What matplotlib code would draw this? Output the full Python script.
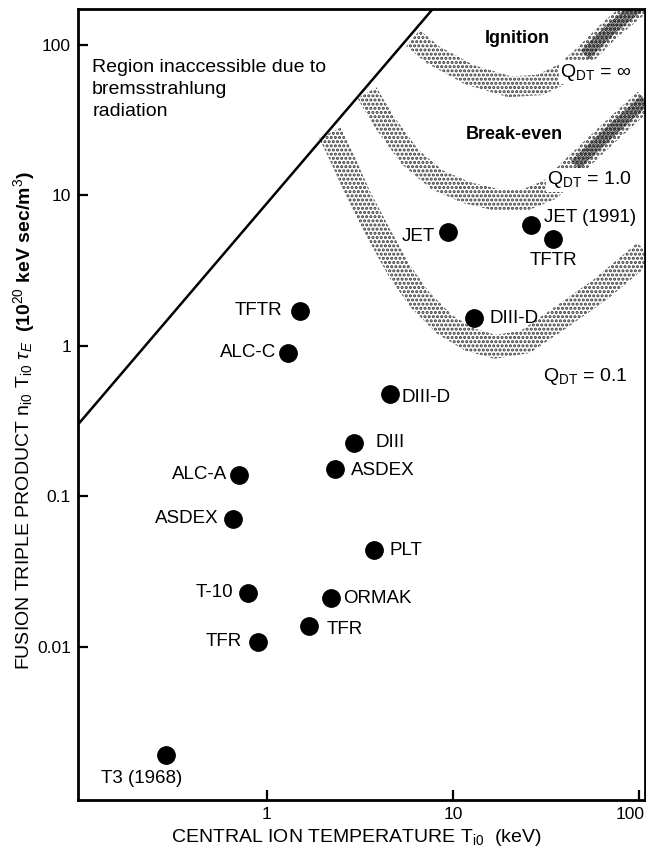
"""Lawson-type progress chart: fusion triple product vs central ion temperature."""
import matplotlib
matplotlib.use("Agg")
import matplotlib.pyplot as plt
import matplotlib.transforms as mtransforms
import numpy as np
from matplotlib.patches import Polygon

# tokamak results (keV, 1e20 keV s / m^3)
MACHINES = ["T3 (1968)", "TFR", "T-10", "TFR", "ORMAK", "PLT", "ASDEX", "ALC-A",
            "ASDEX", "DIII", "DIII-D", "ALC-C", "TFTR", "DIII-D", "JET",
            "JET (1991)", "TFTR"]
TEMP = [0.286, 0.89, 0.79, 1.68, 2.21, 3.76, 0.66, 0.71,
        2.32, 2.94, 4.58, 1.30, 1.50, 13.0, 9.4, 26.2, 34.5]
TRIPLE = [0.0019, 0.0108, 0.0229, 0.0138, 0.0212, 0.0441, 0.0709, 0.139,
          0.152, 0.227, 0.48, 0.90, 1.71, 1.53, 5.72, 6.37, 5.14]

# bremsstrahlung limit line
BREMS_T = [0.0964, 8.0]
BREMS_P = [0.30, 180.0]

# Q_DT contours (band centre lines)
Q01_T = [2.18, 2.56, 3.16, 4.05, 5.19, 6.65, 9.06, 12.3, 16.8, 24.4, 37.6, 61.7, 108]
Q01_P = [26.0, 17.2, 9.62, 5.38, 3.10, 2.02, 1.38, 1.10, 0.985, 1.06, 1.53, 2.36, 4.21]
Q1_T = [3.45, 4.20, 5.87, 8.20, 11.9, 17.2, 24.4, 33.2, 45.3, 69.9, 108]
Q1_P = [48.0, 31.7, 18.0, 12.7, 10.4, 9.33, 9.33, 10.9, 15.9, 26.4, 43.1]
IGN_T = [6.10, 7.80, 12.3, 20.2, 29.4, 40.0, 51.3, 69.9, 101]
IGN_P = [111, 85.9, 63.2, 52.6, 54.2, 65.2, 85.9, 126, 184]

X_TICKS = [1, 10, 100]
X_TICKLABELS = ["1", "10", "100"]
Y_TICKS = [0.01, 0.1, 1, 10, 100]
Y_TICKLABELS = ["0.01", "0.1", "1", "10", "100"]

# label placement (pixel offset from dot, alignment)
LABEL_POS = [(-24, -23, "center"), (-16, 0, "right"), (-15, 0, "right"),
             (18, -4, "left"), (12, -1, "left"), (16, -1, "left"),
             (-15, 0, "right"), (-12, 0, "right"), (16, -2, "left"),
             (21, 0, "left"), (12, -4, "left"), (-12, 0, "right"),
             (-17, 0, "right"), (15, 0, "left"), (-13, -5, "right"),
             (13, 7, "left"), (0, -22, "center")]

plt.rcParams["font.family"] = ["Liberation Sans", "DejaVu Sans"]
plt.rcParams["mathtext.fontset"] = "custom"
plt.rcParams["mathtext.rm"] = "Liberation Sans"
plt.rcParams["mathtext.it"] = "Liberation Sans:italic"
plt.rcParams["mathtext.bf"] = "Liberation Sans:bold"
plt.rcParams["hatch.linewidth"] = 1.5


def draw_band(ax, temps, products, width_px, hatch="....", color="#3a3a3a"):
    # stippled band of constant pixel width around a centre line
    pts = ax.transData.transform(np.column_stack([temps, products]))
    tang = np.gradient(pts, axis=0)
    tang /= np.hypot(tang[:, 0], tang[:, 1])[:, None]
    normal = np.column_stack([-tang[:, 1], tang[:, 0]])
    outline = np.vstack([pts + normal * width_px / 2,
                         (pts - normal * width_px / 2)[::-1]])
    outline = ax.transData.inverted().transform(outline)
    ax.add_patch(Polygon(outline, closed=True, facecolor="none",
                         edgecolor=color, linewidth=0, hatch=hatch, zorder=1))


fig = plt.figure(figsize=(6.46, 8.52), dpi=100)
ax = fig.add_axes([78 / 646, 52 / 852, 567 / 646, 791 / 852])
ax.set_xscale("log")
ax.set_yscale("log")
ax.set_xlim(0.0964, 107.7)
ax.set_ylim(0.00096, 173)

draw_band(ax, Q01_T, Q01_P, 24)
draw_band(ax, Q1_T, Q1_P, 22)
draw_band(ax, IGN_T, IGN_P, 21)
# the steep high-temperature arms are printed darker
draw_band(ax, Q1_T[8:], Q1_P[8:], 12, hatch="......", color="#111111")
draw_band(ax, IGN_T[6:], IGN_P[6:], 12, hatch="......", color="#111111")

ax.plot(BREMS_T, BREMS_P, color="black", linewidth=1.8, zorder=2)
ax.plot(TEMP, TRIPLE, "o", color="black", markersize=12.5, linestyle="none", zorder=3)

for name, t, p, (dx, dy, ha) in zip(MACHINES, TEMP, TRIPLE, LABEL_POS):
    ax.annotate(name, (t, p), xytext=(dx, dy), textcoords="offset pixels",
                ha=ha, va="center", fontsize=13.5, zorder=4)

ax.text(0.025, 0.937, "Region inaccessible due to\nbremsstrahlung\nradiation",
        transform=ax.transAxes, ha="left", va="top", fontsize=14, linespacing=1.4)
ax.text(0.774, 0.963, "Ignition", transform=ax.transAxes, ha="center", va="center",
        fontsize=13, fontweight="bold")
ax.text(0.769, 0.841, "Break-even", transform=ax.transAxes, ha="center", va="center",
        fontsize=13, fontweight="bold")
qbox = dict(facecolor="white", edgecolor="none", pad=1)
ax.text(0.850, 0.920, r"Q$_{\rm DT}$ = ∞", transform=ax.transAxes, ha="left",
        va="center", fontsize=14, bbox=qbox, zorder=4)
ax.text(0.827, 0.784, r"Q$_{\rm DT}$ = 1.0", transform=ax.transAxes, ha="left",
        va="center", fontsize=14, bbox=qbox, zorder=4)
ax.text(0.820, 0.535, r"Q$_{\rm DT}$ = 0.1", transform=ax.transAxes, ha="left",
        va="center", fontsize=14, bbox=qbox, zorder=4)

ax.set_xticks(X_TICKS)
ax.set_xticklabels(X_TICKLABELS)
ax.set_yticks(Y_TICKS)
ax.set_yticklabels(Y_TICKLABELS)
ax.minorticks_off()
ax.tick_params(direction="in", length=7, width=1.6, labelsize=12.5, pad=5)
# keep the "100" label inside the figure edge
last = ax.get_xticklabels()[-1]
last.set_transform(last.get_transform() +
                   mtransforms.ScaledTranslation(-9 / 100, 0, fig.dpi_scale_trans))
for sp in ax.spines.values():
    sp.set_linewidth(2)

fig.text(24 / 646, 1 - 670 / 852,
         r"FUSION TRIPLE PRODUCT n$_{\rm i0}$ T$_{\rm i0}$ $\tau_E$",
         rotation=90, ha="center", va="bottom", fontsize=14)
fig.text(24 / 646, 1 - 332 / 852, r"(10$^{20}$ keV sec/m$^3$)",
         rotation=90, ha="center", va="bottom", fontsize=14, fontweight="bold")
fig.text(356 / 646, 1 - 838 / 852, r"CENTRAL ION TEMPERATURE T$_{\rm i0}$  (keV)",
         ha="center", va="center", fontsize=14)

fig.savefig("out.png", dpi=100)
